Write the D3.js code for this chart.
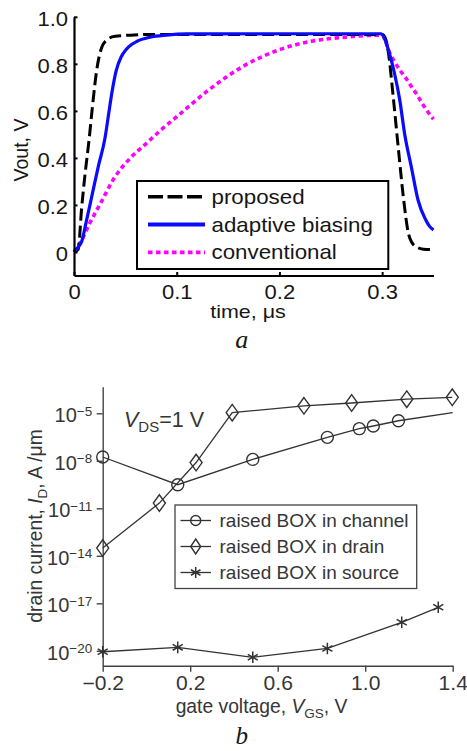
<!DOCTYPE html>
<html>
<head>
<meta charset="utf-8">
<script src="https://cdn.jsdelivr.net/npm/d3@7/dist/d3.min.js"></script>
<style>
  html, body { margin: 0; padding: 0; background: #fff; }
  svg { display: block; }
</style>
</head>
<body>
<svg id="chart" width="467" height="751"></svg>
<script>
// ---------- Panel a data ----------
const seriesNamesA = ["proposed", "adaptive biasing", "conventional"];
const tProposed = [0, 0.004, 0.0075, 0.011, 0.0145, 0.018, 0.022, 0.027, 0.033, 0.04, 0.055, 0.08, 0.15, 0.25, 0.3, 0.303, 0.306, 0.311, 0.316, 0.321, 0.3255, 0.329, 0.333, 0.34, 0.35];
const vProposed = [0, 0.01, 0.19, 0.34, 0.47, 0.62, 0.77, 0.87, 0.905, 0.917, 0.922, 0.925, 0.925, 0.925, 0.925, 0.91, 0.85, 0.65, 0.43, 0.22, 0.08, 0.04, 0.022, 0.012, 0.01];
const tAdaptive = [0, 0.004, 0.0075, 0.012, 0.018, 0.024, 0.03, 0.0335, 0.037, 0.041, 0.046, 0.051, 0.056, 0.061, 0.074, 0.09, 0.11, 0.2, 0.299, 0.303, 0.308, 0.312, 0.317, 0.322, 0.3285, 0.335, 0.342, 0.346, 0.35];
const vAdaptive = [0, 0.02, 0.045, 0.13, 0.25, 0.37, 0.48, 0.58, 0.68, 0.77, 0.83, 0.862, 0.882, 0.895, 0.913, 0.922, 0.927, 0.928, 0.928, 0.9, 0.83, 0.76, 0.65, 0.5, 0.36, 0.22, 0.14, 0.11, 0.094];
const tConventional = [0, 0.0075, 0.015, 0.025, 0.04, 0.055, 0.07, 0.085, 0.1, 0.13, 0.165, 0.2, 0.23, 0.26, 0.3, 0.303, 0.307, 0.312, 0.317, 0.323, 0.329, 0.334, 0.3385, 0.343, 0.35];
const vConventional = [0, 0.05, 0.12, 0.2, 0.32, 0.4, 0.46, 0.52, 0.575, 0.685, 0.79, 0.86, 0.895, 0.912, 0.922, 0.9, 0.85, 0.81, 0.775, 0.74, 0.7, 0.668, 0.635, 0.605, 0.565];
const xTicksA = [0, 0.1, 0.2, 0.3];
const yTicksA = [0, 0.2, 0.4, 0.6, 0.8, 1.0];

// ---------- Panel b data ----------
const seriesNamesB = ["raised BOX in channel", "raised BOX in drain", "raised BOX in source"];
const vgsChannel = [-0.2, 0.143, 0.486, 0.827, 0.973, 1.037, 1.152];
const idChannel = [1.74e-8, 3.09e-10, 1.23e-8, 3.02e-7, 1.07e-6, 1.58e-6, 3.39e-6];
const vgsChannelEnd = [1.4];
const idChannelEnd = [1.1e-5];
const vgsDrain = [-0.2, 0.059, 0.227, 0.392, 0.72, 0.938, 1.19, 1.398];
const idDrain = [3.09e-14, 2.14e-11, 7.76e-9, 1.1e-5, 2.95e-5, 4.47e-5, 7.76e-5, 1.02e-4];
const vgsSource = [-0.2, 0.143, 0.486, 0.827, 1.167, 1.334];
const idSource = [8.7e-21, 1.66e-20, 3.89e-21, 1.41e-20, 6.3e-19, 5.6e-18];
const xTicksB = [-0.2, 0.2, 0.6, 1.0, 1.4];
const yTickExpB = [-5, -8, -11, -14, -17, -20];

const svg = d3.select("#chart");
const SANS = "'Liberation Sans', Arial, Helvetica, sans-serif";
const SERIF = "'Liberation Serif', 'Times New Roman', serif";

// ================= Panel a =================
const sxA = 1.13; // horizontal stretch of the original lettering
const xA = d3.scaleLinear().domain([0, 0.35]).range([74, 433.5]);
const yA = d3.scaleLinear().domain([-0.1, 1.0]).range([275.5, 16.8]);
const colA = "#161616";

const gA = svg.append("g");

const pairs = (ts, vs) => ts.map((t, i) => [t, vs[i]]);
const lineA = d3.line().x(d => xA(d[0])).y(d => yA(d[1])).curve(d3.curveMonotoneX);

gA.append("path").datum(pairs(tConventional, vConventional))
  .attr("d", lineA).attr("fill", "none").attr("stroke", "#ff00ff")
  .attr("stroke-width", 3.6).attr("stroke-dasharray", "4.5,3.5");
gA.append("path").datum(pairs(tProposed, vProposed))
  .attr("d", lineA).attr("fill", "none").attr("stroke", "#000")
  .attr("stroke-width", 3).attr("stroke-dasharray", "12,5");
gA.append("path").datum(pairs(tAdaptive, vAdaptive))
  .attr("d", lineA).attr("fill", "none").attr("stroke", "#0a0aff")
  .attr("stroke-width", 3.2);

const axLeftA = gA.append("g").attr("transform", "translate(74,0)")
  .call(d3.axisLeft(yA).tickValues(yTicksA).tickSize(-3.5).tickSizeOuter(0).tickPadding(6)
    .tickFormat(d => d === 0 ? "0" : d3.format(".1f")(d)));
const axBotA = gA.append("g").attr("transform", "translate(0,275.5)")
  .call(d3.axisBottom(xA).tickValues(xTicksA).tickSize(-3.5).tickSizeOuter(0).tickPadding(10)
    .tickFormat(d => d === 0 ? "0" : d3.format(".1f")(d)));
[axLeftA, axBotA].forEach(ax => {
  ax.select(".domain").attr("stroke", "#000").attr("stroke-width", 2.2);
  ax.selectAll(".tick line").attr("stroke", "#000").attr("stroke-width", 2);
  ax.selectAll(".tick text").attr("fill", colA).attr("font-family", SANS).attr("font-size", 19.5);
});
axLeftA.selectAll(".tick text").attr("y", 2).attr("dy", "0.35em")
  .attr("x", -6 / sxA).attr("transform", `scale(${sxA},1)`);
axBotA.selectAll(".tick text").attr("transform", `scale(${sxA},1)`);

function stretchedText(g, x, y, str, size, sx, anchor, rotate) {
  return g.append("text")
    .attr("transform", `translate(${x},${y})` + (rotate ? ` rotate(${rotate})` : "") + ` scale(${sx},1)`)
    .attr("font-family", SANS).attr("font-size", size).attr("text-anchor", anchor || "start")
    .attr("fill", colA).text(str);
}

stretchedText(gA, 248, 318, "time, μs", 19, sxA, "middle");
stretchedText(gA, 28, 150, "Vout, V", 19.5, 1.0, "middle", -90);

const legA = gA.append("g");
legA.append("rect").attr("x", 137).attr("y", 181).attr("width", 251.3).attr("height", 88)
  .attr("fill", "#fff").attr("stroke", "#000").attr("stroke-width", 2);
const legStyles = [
  { stroke: "#000", w: 3.6, dash: "15,4.5" },
  { stroke: "#0a0aff", w: 3.8, dash: null },
  { stroke: "#ff00ff", w: 3.8, dash: "4.5,3.5" }
];
const legYA = d3.scalePoint().domain(seriesNamesA).range([196.7, 252.3]);
seriesNamesA.forEach((name, i) => {
  const y = legYA(name);
  const ln = legA.append("line").attr("x1", 148).attr("x2", 205).attr("y1", y).attr("y2", y)
    .attr("stroke", legStyles[i].stroke).attr("stroke-width", legStyles[i].w);
  if (legStyles[i].dash) ln.attr("stroke-dasharray", legStyles[i].dash);
  stretchedText(legA, 211.5, y + 7, name, 20.3, 1.1, "start");
});

svg.append("text").attr("x", 241.7).attr("y", 348).attr("text-anchor", "middle")
  .attr("font-family", SERIF).attr("font-style", "italic").attr("font-size", 26)
  .attr("fill", colA).text("a");

// ================= Panel b =================
const colB = "#363636";
const xB = d3.scaleLinear().domain([-0.2, 1.4]).range([102.7, 452.7]);
const yB = d3.scaleLog().domain([Math.pow(10, -20.94), Math.pow(10, -3.32)]).range([665.7, 386.7]);
const gB = svg.append("g");

const axLeftB = gB.append("g").attr("transform", "translate(102.7,0)")
  .call(d3.axisLeft(yB).tickValues(yTickExpB.map(e => Math.pow(10, e))).tickSize(6).tickSizeOuter(0)
    .tickFormat(""));
const axBotB = gB.append("g").attr("transform", "translate(0,665.7)")
  .call(d3.axisBottom(xB).tickValues(xTicksB).tickSize(6).tickSizeOuter(0).tickPadding(4)
    .tickFormat(d => d3.format(".1f")(d).replace("-", "−")));
[axLeftB, axBotB].forEach(ax => {
  ax.select(".domain").attr("stroke", "#444").attr("stroke-width", 1.4);
  ax.selectAll(".tick line").attr("stroke", "#444").attr("stroke-width", 1.4);
});
axBotB.selectAll(".tick text").attr("fill", colB).attr("font-family", SANS).attr("font-size", 19.5)
  .attr("transform", "scale(1.08,1)");

axLeftB.selectAll(".tick").each(function(d) {
  const e = Math.round(Math.log10(d));
  const t = d3.select(this).append("text").attr("x", -10.5).attr("y", 8.4)
    .attr("text-anchor", "end").attr("font-family", SANS).attr("fill", colB);
  t.append("tspan").attr("font-size", 20).text("10");
  t.append("tspan").attr("font-size", 13.5).attr("dy", -6.7).text("−" + Math.abs(e));
});

const lineB = d3.line().x(d => xB(d[0])).y(d => yB(d[1]));
const chanLinePts = pairs(vgsChannel.concat(vgsChannelEnd), idChannel.concat(idChannelEnd));
gB.append("path").datum(chanLinePts).attr("d", lineB).attr("fill", "none").attr("stroke", "#333").attr("stroke-width", 1.3);
gB.append("path").datum(pairs(vgsDrain, idDrain)).attr("d", lineB).attr("fill", "none").attr("stroke", "#333").attr("stroke-width", 1.3);
gB.append("path").datum(pairs(vgsSource, idSource)).attr("d", lineB).attr("fill", "none").attr("stroke", "#333").attr("stroke-width", 1.3);

function circleM(g, x, y, r) {
  g.append("circle").attr("cx", x).attr("cy", y).attr("r", r)
    .attr("fill", "none").attr("stroke", "#333").attr("stroke-width", 1.4);
}
function diamondM(g, x, y, hw, hh) {
  g.append("path").attr("d", `M${x},${y - hh}L${x + hw},${y}L${x},${y + hh}L${x - hw},${y}Z`)
    .attr("fill", "none").attr("stroke", "#333").attr("stroke-width", 1.4);
}
function starM(g, x, y, r) {
  const a = Math.PI / 6;
  const dx = r * Math.cos(a), dy = r * Math.sin(a);
  g.append("path").attr("d",
    `M${x},${y - r}L${x},${y + r}M${x - dx},${y - dy}L${x + dx},${y + dy}M${x - dx},${y + dy}L${x + dx},${y - dy}`)
    .attr("fill", "none").attr("stroke", "#333").attr("stroke-width", 1.5);
}
vgsChannel.forEach((v, i) => circleM(gB, xB(v), yB(idChannel[i]), 6));
vgsDrain.forEach((v, i) => diamondM(gB, xB(v), yB(idDrain[i]), 6, 8.3));
vgsSource.forEach((v, i) => starM(gB, xB(v), yB(idSource[i]), 5.8));

const ann = gB.append("text").attr("x", 124).attr("y", 426.7).attr("font-family", SANS)
  .attr("font-size", 21.5).attr("fill", colB);
ann.append("tspan").attr("font-style", "italic").text("V");
ann.append("tspan").attr("font-size", 15).attr("dy", 5).text("DS");
ann.append("tspan").attr("dy", -5).text("=1 V");

const xt = gB.append("text").attr("x", 261.5).attr("y", 712.7).attr("text-anchor", "middle")
  .attr("font-family", SANS).attr("font-size", 19.3).attr("fill", colB);
xt.append("tspan").text("gate voltage, ");
xt.append("tspan").attr("font-style", "italic").text("V");
xt.append("tspan").attr("font-size", 13.5).attr("dy", 5).text("GS");
xt.append("tspan").attr("dy", -5).text(", V");

const yt = gB.append("text").attr("transform", "translate(42,526) rotate(-90)").attr("text-anchor", "middle")
  .attr("font-family", SANS).attr("font-size", 19.3).attr("fill", colB);
yt.append("tspan").text("drain current, ");
yt.append("tspan").attr("font-style", "italic").text("I");
yt.append("tspan").attr("font-size", 13.5).attr("dy", 5).text("D");
yt.append("tspan").attr("dy", -5).text(", A /μm");

const legB = gB.append("g");
legB.append("rect").attr("x", 175).attr("y", 505).attr("width", 241.7).attr("height", 83.5)
  .attr("fill", "#fff").attr("stroke", "#444").attr("stroke-width", 1.3);
const legYB = d3.scalePoint().domain(seriesNamesB).range([520.5, 572.5]);
seriesNamesB.forEach((name, i) => {
  const y = legYB(name);
  legB.append("line").attr("x1", 180.5).attr("x2", 211).attr("y1", y).attr("y2", y)
    .attr("stroke", "#333").attr("stroke-width", 1.3);
  if (i === 0) circleM(legB, 195.7, y, 5);
  if (i === 1) diamondM(legB, 195.7, y, 5, 7.5);
  if (i === 2) starM(legB, 195.7, y, 5.5);
  legB.append("text").attr("x", 219.5).attr("y", y + 6.8).attr("font-family", SANS)
    .attr("font-size", 19).attr("fill", colB).text(name);
});

svg.append("text").attr("x", 241.7).attr("y", 744).attr("text-anchor", "middle")
  .attr("font-family", SERIF).attr("font-style", "italic").attr("font-size", 25)
  .attr("fill", colA).text("b");
</script>
</body>
</html>
